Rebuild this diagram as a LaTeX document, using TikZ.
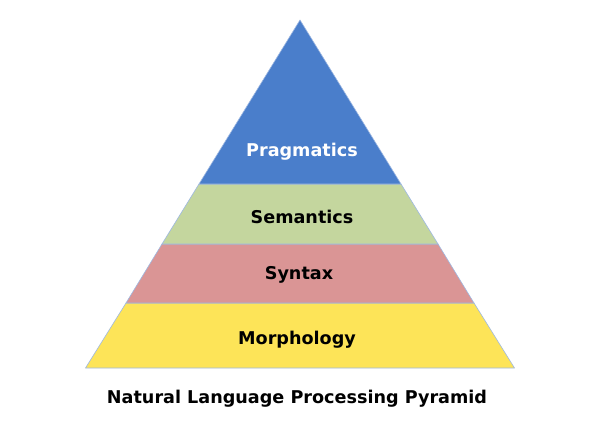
\documentclass[tikz,border=0pt]{standalone}
\usepackage{fontspec}
\setmainfont{DejaVu Sans}
\definecolor{prag}{HTML}{4A7ECB}
\definecolor{sem}{HTML}{C4D69E}
\definecolor{syn}{HTML}{DA9595}
\definecolor{morph}{HTML}{FDE458}
\definecolor{rim}{HTML}{9DB8E2}
\tikzset{
  layer/.style={draw=rim, line width=0.6pt, line join=round},
  lbl/.style={font=\fontsize{17.6}{20}\selectfont\bfseries, text=black},
}
\begin{document}
\begin{tikzpicture}[x=1pt,y=-1pt]
	\useasboundingbox[fill=white] (0,0) rectangle (598,423);
	\fill[layer, fill=morph] (126,303) -- (474,303) -- (514.5,368) -- (85.5,368) -- cycle;
	\fill[layer, fill=syn] (162,244) -- (438,244) -- (474,303) -- (126,303) -- cycle;
	\fill[layer, fill=sem] (199,184) -- (401,184) -- (438,244) -- (162,244) -- cycle;
	\fill[layer, fill=prag] (300,20) -- (401,184) -- (199,184) -- cycle;
	\node[lbl, text=white] (pragmatics) at (302,152) {Pragmatics};
	\node[lbl] (semantics) at (302,217) {Semantics};
	\node[lbl] (syntax) at (299,275) {Syntax};
	\node[lbl] (morphology) at (297,340) {Morphology};
	\node[lbl] (title) at (297,399) {Natural Language Processing Pyramid};
\end{tikzpicture}
\end{document}
